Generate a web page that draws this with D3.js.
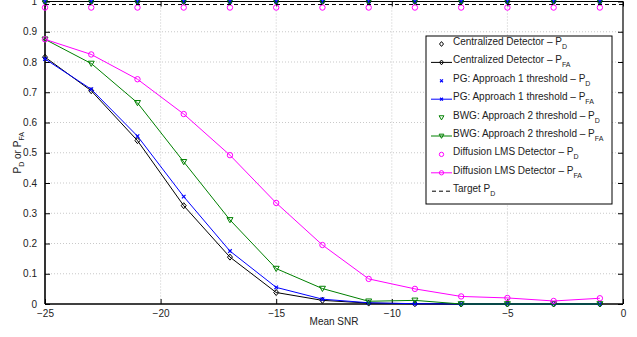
<!DOCTYPE html>
<html><head><meta charset="utf-8">
<script src="https://d3js.org/d3.v7.min.js"></script>
<style>body{margin:0;background:#fff}svg{display:block}text{font-family:"Liberation Sans",Arial,sans-serif;}</style>
</head><body><svg id="c" width="637" height="337"></svg>
<script>
const snr = [-25,-23,-21,-19,-17,-15,-13,-11,-9,-7,-5,-3,-1];
const centralPD  = [1,1,1,1,1,1,1,1,1,1,1,1,1];
const centralPFA = [0.816,0.705,0.540,0.325,0.155,0.038,0.012,0.003,0.001,0,0,0,0];
const pgPD  = [1,1,1,1,1,1,1,1,1,1,1,1,1];
const pgPFA = [0.810,0.710,0.555,0.355,0.175,0.055,0.016,0.004,0.001,0,0,0,0];
const bwgPD  = [1,1,1,1,1,1,1,1,1,1,1,1,1];
const bwgPFA = [0.875,0.795,0.665,0.470,0.278,0.117,0.051,0.009,0.012,0,0,0,0];
const lmsPD  = [0.98,0.98,0.98,0.98,0.98,0.98,0.98,0.98,0.98,0.98,0.98,0.98,0.98];
const lmsPFA = [0.875,0.825,0.743,0.628,0.492,0.334,0.195,0.083,0.050,0.025,0.020,0.010,0.019];
const targetPD = 0.99;
const xTicks = [-25,-20,-15,-10,-5,0];
const yTicks = [0,0.1,0.2,0.3,0.4,0.5,0.6,0.7,0.8,0.9,1];

const series = [
  {name:"Centralized Detector – P", sub:"D", vals:centralPD, color:"#000", marker:"diamond", line:false},
  {name:"Centralized Detector – P", sub:"FA", vals:centralPFA, color:"#000", marker:"diamond", line:true},
  {name:"PG: Approach 1 threshold – P", sub:"D", vals:pgPD, color:"#0000ff", marker:"x", line:false},
  {name:"PG: Approach 1 threshold – P", sub:"FA", vals:pgPFA, color:"#0000ff", marker:"x", line:true},
  {name:"BWG: Approach 2 threshold – P", sub:"D", vals:bwgPD, color:"#008000", marker:"tri", line:false},
  {name:"BWG: Approach 2 threshold – P", sub:"FA", vals:bwgPFA, color:"#008000", marker:"tri", line:true},
  {name:"Diffusion LMS Detector – P", sub:"D", vals:lmsPD, color:"#ff00ff", marker:"circle", line:false},
  {name:"Diffusion LMS Detector – P", sub:"FA", vals:lmsPFA, color:"#ff00ff", marker:"circle", line:true}
];

const svg = d3.select("#c");
const L=45, R=623, T=1.5, B=304;
const x = d3.scaleLinear().domain([-25,0]).range([L,R]);
const y = d3.scaleLinear().domain([0,1]).range([B,T]);

// grid
const g = svg.append("g");
g.selectAll(".gx").data(xTicks.slice(1,-1)).join("line")
  .attr("x1",d=>x(d)).attr("x2",d=>x(d)).attr("y1",T).attr("y2",B)
  .attr("stroke","#bbb").attr("stroke-width",0.8).attr("stroke-dasharray","1,2");
g.selectAll(".gy").data(yTicks.slice(1,-1)).join("line")
  .attr("y1",d=>y(d)).attr("y2",d=>y(d)).attr("x1",L).attr("x2",R)
  .attr("stroke","#bbb").attr("stroke-width",0.8).attr("stroke-dasharray","1,2");

// axes
const fs = 10;
const xa = svg.append("g").attr("transform",`translate(0,${B})`)
  .call(d3.axisBottom(x).tickValues(xTicks).tickSizeInner(-5).tickSizeOuter(0).tickPadding(8).tickFormat(d=>d<0?"−"+Math.abs(d):d));
const xt = svg.append("g").attr("transform",`translate(0,${T})`)
  .call(d3.axisTop(x).tickValues(xTicks).tickSizeInner(-5).tickSizeOuter(0).tickFormat(""));
const ya = svg.append("g").attr("transform",`translate(${L},0)`)
  .call(d3.axisLeft(y).tickValues(yTicks).tickSizeInner(-5).tickSizeOuter(0).tickPadding(8).tickFormat(d=>d===0?"0":d===1?"1":d3.format(".1f")(d)));
const yr = svg.append("g").attr("transform",`translate(${R},0)`)
  .call(d3.axisRight(y).tickValues(yTicks).tickSizeInner(-5).tickSizeOuter(0).tickFormat(""));
[xa,xt,ya,yr].forEach(a=>{
  a.select(".domain").remove();
  a.selectAll("line").attr("stroke","#000").attr("stroke-width",1);
  a.selectAll("text").attr("font-size",fs).attr("fill","#222").style("font-family",'"Liberation Sans",Arial,sans-serif');
});
xa.selectAll("text").attr("dy","0.5em");
// box
svg.append("line").attr("x1",L).attr("x2",L).attr("y1",T).attr("y2",B).attr("stroke","#000").attr("stroke-width",1.6);
svg.append("line").attr("x1",L).attr("x2",R).attr("y1",B).attr("y2",B).attr("stroke","#000").attr("stroke-width",1.6);
svg.append("line").attr("x1",R).attr("x2",R).attr("y1",T).attr("y2",B).attr("stroke","#000").attr("stroke-width",1.2);
svg.append("line").attr("x1",L).attr("x2",R).attr("y1",T).attr("y2",T).attr("stroke","#000").attr("stroke-width",1.2);

// labels
svg.append("text").attr("x",(L+R)/2).attr("y",325).attr("text-anchor","middle").attr("font-size",fs).attr("fill","#222").text("Mean SNR");
const yl = svg.append("text").attr("transform",`translate(21,${(T+B)/2}) rotate(-90)`).attr("text-anchor","middle").attr("font-size",fs).attr("fill","#222");
yl.append("tspan").text("P");
yl.append("tspan").attr("font-size",7).attr("dy",3).text("D");
yl.append("tspan").attr("dy",-3).text(" or P");
yl.append("tspan").attr("font-size",7).attr("dy",3).text("FA");

function drawMarker(sel, type, color, cx, cy, k){
  k = k||1;
  if(type==="diamond"){
    sel.append("path").attr("d",`M${cx},${cy-3*k}L${cx+2.5*k},${cy}L${cx},${cy+3*k}L${cx-2.5*k},${cy}Z`)
      .attr("fill","none").attr("stroke",color).attr("stroke-width",1);
  } else if(type==="circle"){
    sel.append("circle").attr("cx",cx).attr("cy",cy).attr("r",2.7*k).attr("fill","none").attr("stroke",color).attr("stroke-width",1);
  } else if(type==="tri"){
    sel.append("path").attr("d",`M${cx-3*k},${cy-2.3*k}L${cx+3*k},${cy-2.3*k}L${cx},${cy+2.9*k}Z`)
      .attr("fill","none").attr("stroke",color).attr("stroke-width",1);
  } else if(type==="x"){
    sel.append("path").attr("d",`M${cx-1.8*k},${cy-1.8*k}L${cx+1.8*k},${cy+1.8*k}M${cx-1.8*k},${cy+1.8*k}L${cx+1.8*k},${cy-1.8*k}`)
      .attr("stroke",color).attr("stroke-width",1.2);
  }
}

const lineGen = d3.line().x((d,i)=>x(snr[i])).y(d=>y(d));
const plot = svg.append("g");
series.forEach(s=>{
  const gg = plot.append("g");
  if(s.line) gg.append("path").attr("d",lineGen(s.vals)).attr("fill","none").attr("stroke",s.color).attr("stroke-width",1);
  s.vals.forEach((v,i)=>drawMarker(gg,s.marker,s.color,x(snr[i]),y(v)));
});
// target
plot.append("line").attr("x1",L).attr("x2",R).attr("y1",y(targetPD)).attr("y2",y(targetPD))
  .attr("stroke","#000").attr("stroke-width",1).attr("stroke-dasharray","4,3");

// legend
const lg = svg.append("g");
const lx=426, ly=36, lw=186, lh=168;
lg.append("rect").attr("x",lx).attr("y",ly).attr("width",lw).attr("height",lh).attr("fill","#fff").attr("stroke","#000").attr("stroke-width",1);
const entries = series.concat([{name:"Target P", sub:"D", color:"#000", marker:null, line:true, dash:true}]);
entries.forEach((s,i)=>{
  const cy = 44 + i*18.4;
  if(s.line){
    const ln = lg.append("line").attr("x1",431).attr("x2",452).attr("y1",cy).attr("y2",cy).attr("stroke",s.color).attr("stroke-width",1);
    if(s.dash) ln.attr("stroke-dasharray","4,3").attr("x1",432).attr("x2",451);
  }
  if(s.marker) drawMarker(lg,s.marker,s.color,441.5,cy,0.8);
  const t = lg.append("text").attr("x",453).attr("y",cy+1).attr("font-size",fs).attr("fill","#222");
  t.append("tspan").text(s.name);
  t.append("tspan").attr("font-size",7).attr("dy",4).text(s.sub);
});
</script></body></html>
